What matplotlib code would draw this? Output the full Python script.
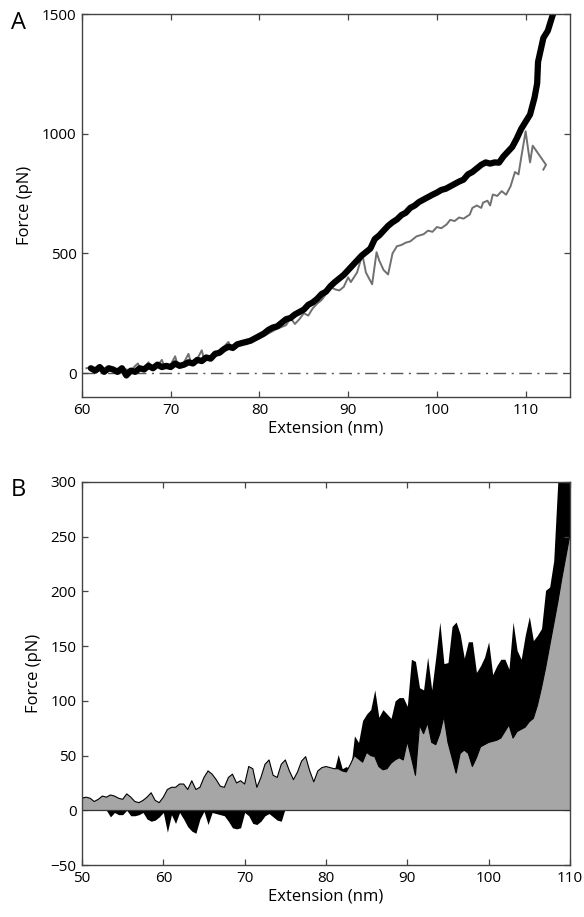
import numpy as np
import matplotlib
matplotlib.use("Agg")
import matplotlib.pyplot as plt

plt.rcParams['font.family'] = ['Open Sans', 'DejaVu Sans']
plt.rcParams['font.size'] = 11

# Panel A: force-extension traces
ext_black = [61, 61.5, 62, 62.5, 63, 63.5, 64, 64.5, 65, 65.5, 66, 66.5, 67, 67.5, 68, 68.5,
             69, 69.5, 70, 70.5, 71, 71.5, 72, 72.5, 73, 73.5, 74, 74.5, 75, 75.5, 76, 76.5,
             77, 77.5, 78, 78.5, 79, 79.5, 80, 80.5, 81, 81.5, 82, 82.5, 83, 83.5, 84, 84.5,
             85, 85.5, 86, 86.5, 87, 87.5, 88, 88.5, 89, 89.5, 90, 90.5, 91, 91.5, 92, 92.5,
             93, 93.5, 94, 94.5, 95, 95.5, 96, 96.5, 97, 97.5, 98, 98.5, 99, 99.5, 100, 100.5,
             101, 101.5, 102, 102.5, 103, 103.5, 104, 104.5, 105, 105.5, 106, 106.5, 107, 107.5,
             108, 108.5, 109, 109.5, 110, 110.5, 111, 111.3, 111.4, 112, 112.5, 113, 113.3]
force_black = [20, 10, 25, 5, 20, 15, 5, 20, -10, 10, 5, 20, 15, 30, 20, 35,
               25, 30, 25, 40, 30, 35, 45, 40, 55, 50, 65, 60, 80, 85, 100, 110,
               105, 120, 125, 130, 135, 145, 155, 165, 180, 190, 195, 210, 225, 230, 245, 255,
               265, 285, 295, 310, 330, 340, 363, 380, 395, 410, 430, 450, 470, 490, 505, 520,
               560, 575, 595, 615, 630, 642, 660, 670, 690, 700, 715, 725, 735, 745, 754, 765,
               770, 780, 790, 800, 808, 830, 840, 855, 870, 880, 875, 880, 879, 905,
               925, 945, 980, 1020, 1050, 1080, 1150, 1210, 1300, 1400, 1430, 1490, 1520]

ext_gray = [60.5, 61, 61.5, 62, 62.5, 63, 63.5, 64, 64.5, 65, 65.5, 66, 66.3, 66.6, 67, 67.5,
            67.8, 68.5, 69, 69.3, 70, 70.5, 70.8, 71.5, 72, 72.3, 73, 73.5, 73.8, 74.5, 75, 75.5,
            76, 76.5, 77, 77.5, 78, 78.5, 79, 80, 81, 82, 83, 83.5, 84, 84.5, 85, 85.5,
            86, 86.5, 87, 87.5, 88, 88.5, 89, 89.5, 90, 90.3, 91, 91.6, 92, 92.7, 93.2, 93.5,
            94, 94.5, 95, 95.5, 96, 96.5, 97, 97.7, 98.5, 99, 99.5, 100, 100.5, 101.1, 101.5, 102,
            102.5, 103, 103.7, 104, 104.5, 105, 105.2, 105.7, 106, 106.3, 106.8, 107.3, 107.8, 108.3,
            108.8, 109.2, 109.5, 110, 110.3, 110.5, 110.8, 112.3, 112.0]
force_gray = [20, 25, 10, 20, 10, 25, 12, 18, 5, 15, 10, 30, 40, 15, 20, 45,
              15, 30, 55, 25, 35, 70, 30, 45, 80, 40, 60, 95, 50, 70, 90, 80,
              110, 130, 95, 110, 135, 120, 130, 145, 165, 185, 200, 230, 205, 225, 250, 240,
              270, 290, 305, 330, 360, 350, 345, 360, 400, 380, 420, 495, 420, 371, 505, 470,
              430, 412, 500, 530, 535, 545, 550, 571, 580, 595, 590, 610, 605, 621, 640, 635,
              650, 645, 662, 690, 700, 690, 712, 720, 700, 746, 740, 760, 745, 780,
              840, 830, 900, 1010, 930, 880, 950, 870, 850]

# Panel B: force difference profiles
ext_b = np.arange(50, 110.5, 0.5)
diff_gray = [11, 12, 11, 8, 10, 13, 12, 14, 13, 11, 10, 15, 12, 8, 7, 9, 12, 16, 9, 7,
             12, 19, 21, 21, 24, 24, 19, 27, 19, 21, 30, 36, 33, 28, 22, 21, 30, 33, 25, 27,
             24, 40, 38, 21, 30, 42, 46, 32, 30, 42, 46, 36, 28, 35, 45, 49, 36, 26, 36, 39,
             40, 39, 38, 38, 36, 35, 42, 50, 47, 44, 53, 50, 49, 40, 37, 38, 43, 46, 48, 46,
             63, 48, 32, 78, 70, 80, 62, 60, 70, 86, 62, 48, 34, 52, 55, 52, 40, 48, 58, 60,
             62, 63, 64, 66, 72, 78, 66, 72, 74, 76, 81, 84, 96, 112, 130, 150, 170, 190, 212, 232,
             252]
diff_black = [13, 10, 8, 6, 5, 3, 0, -6, -2, -4, -4, 0, -5, -5, -4, -2, -8, -10, -9, -6,
              -2, -20, -4, -12, -2, -8, -15, -19, -21, -8, -1, -13, -2, -3, -4, -5, -10, -16, -17, -16,
              -2, -5, -12, -13, -10, -5, -3, -6, -9, -10, 2, 10, 15, 18, 20, 22, 22, 24, 28, 30,
              32, 34, 36, 51, 38, 40, 36, 68, 62, 82, 88, 92, 110, 85, 92, 88, 84, 100, 103, 103,
              95, 138, 136, 112, 110, 140, 110, 140, 172, 134, 135, 168, 172, 161, 139, 154, 154, 126, 132, 140,
              154, 124, 132, 138, 138, 129, 172, 146, 138, 160, 177, 155, 160, 166, 201, 204, 228, 300, 340, 360,
              380]

fig = plt.figure(figsize=(5.84, 9.17), dpi=100)
axA = fig.add_axes([0.1404, 0.5671, 0.8356, 0.4176])
axB = fig.add_axes([0.1404, 0.0567, 0.8356, 0.4177])

spine_col = '#444444'

axA.plot([60, 115], [0, 0], color='#555555', lw=1.0, ls='-.', dashes=(9, 4, 1.5, 4), zorder=1)
axA.plot(ext_gray, force_gray, color='#707070', lw=1.4, solid_joinstyle='round', zorder=2)
axA.plot(ext_black, force_black, color='black', lw=4.5, solid_joinstyle='round',
         solid_capstyle='round', zorder=3)
axA.set_xlim(60, 115)
axA.set_ylim(-100, 1500)
axA.set_xticks([60, 70, 80, 90, 100, 110])
axA.set_yticks([0, 500, 1000, 1500])
axA.set_xlabel('Extension (nm)', fontsize=12, labelpad=2)
axA.set_ylabel('Force (pN)', fontsize=12, labelpad=6)

axB.fill_between(ext_b, 0, diff_black, color='black', lw=0, zorder=1)
axB.fill_between(ext_b, 0, diff_gray, facecolor='#a6a6a6', edgecolor='none', zorder=2)
axB.plot(ext_b, diff_gray, color='black', lw=0.8, zorder=3)
axB.axhline(0, color='#333333', lw=0.9, zorder=4)
axB.set_xlim(50, 110)
axB.set_ylim(-50, 300)
axB.set_xticks([50, 60, 70, 80, 90, 100, 110])
axB.set_yticks([-50, 0, 50, 100, 150, 200, 250, 300])
axB.set_xlabel('Extension (nm)', fontsize=12, labelpad=2)
axB.set_ylabel('Force (pN)', fontsize=12, labelpad=6)

for ax in (axA, axB):
    for s in ax.spines.values():
        s.set_color(spine_col)
        s.set_linewidth(1.0)
        s.set_zorder(5)
    ax.tick_params(direction='in', length=4, width=0.9, color=spine_col,
                   top=True, right=True, labelsize=11, pad=4)

fig.text(0.018, 0.975, 'A', fontsize=17, va='center')
fig.text(0.018, 0.466, 'B', fontsize=17, va='center')

fig.savefig('out.png', dpi=100)
